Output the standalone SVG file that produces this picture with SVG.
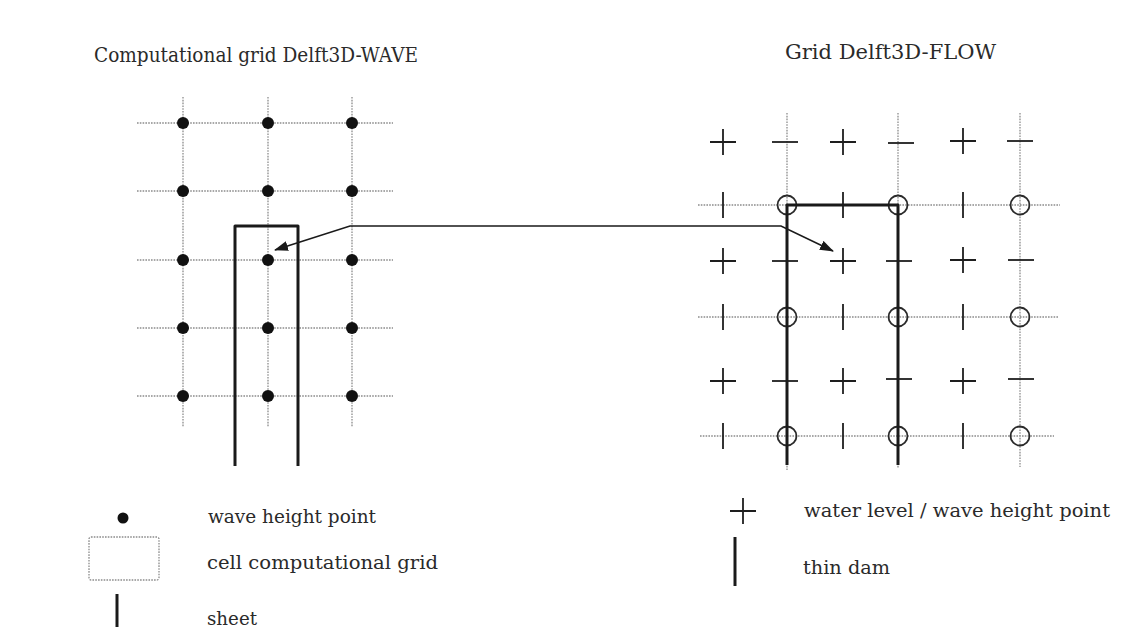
<svg xmlns="http://www.w3.org/2000/svg" xmlns:xlink="http://www.w3.org/1999/xlink" width="1125" height="641" viewBox="0 0 1125 641">
<style>
.txt{font-family:"DejaVu Serif","Liberation Serif",serif;fill:#2a2a2a;}
.title{font-size:19.5px;}
.leg{font-size:19px;}
.grid{stroke:#8c8c8c;stroke-width:1.3;stroke-dasharray:1.6 1.2;fill:none;}
.ink{stroke:#1e1e1e;stroke-width:1.8;fill:none;}
.thick{stroke:#1a1a1a;stroke-width:3;fill:none;stroke-linejoin:round;}
.dot{fill:#111;}
.circ{stroke:#2a2a2a;stroke-width:1.8;fill:none;}
.arrow{stroke:#1a1a1a;stroke-width:1.6;fill:none;}
</style>
<defs>
<marker id="ah" viewBox="0 0 14 10" refX="13" refY="5" markerWidth="14" markerHeight="10" markerUnits="userSpaceOnUse" orient="auto-start-reverse">
<path d="M0,0 L14,5 L0,10 z" fill="#1a1a1a"/>
</marker>
<path id="plus" class="ink" d="M-13,0 H13 M0,-13 V13"/>
<path id="dash" class="ink" d="M-13,0 H13"/>
<path id="tick" class="ink" d="M0,-13 V13"/>
<circle id="ring" class="circ" r="9.5"/>
</defs>
<rect width="1125" height="641" fill="#ffffff"/>

<g id="title-wave"><text class="txt title" x="94" y="62" textLength="324" lengthAdjust="spacingAndGlyphs">Computational grid Delft3D-WAVE</text></g>
<g id="title-flow"><text class="txt title" x="785" y="59" textLength="211" lengthAdjust="spacingAndGlyphs">Grid Delft3D-FLOW</text></g>

<g id="wave-grid">
<path class="grid" d="M137,123 H393 M137,191 H393 M137,260 H393 M137,328 H393 M137,396 H393 M183,97 V427 M268,97 V427 M352,97 V427"/>
<g>
<circle class="dot" cx="183" cy="123" r="6"/><circle class="dot" cx="268" cy="123" r="6"/><circle class="dot" cx="352" cy="123" r="6"/>
<circle class="dot" cx="183" cy="191" r="6"/><circle class="dot" cx="268" cy="191" r="6"/><circle class="dot" cx="352" cy="191" r="6"/>
<circle class="dot" cx="183" cy="260" r="6"/><circle class="dot" cx="268" cy="260" r="6"/><circle class="dot" cx="352" cy="260" r="6"/>
<circle class="dot" cx="183" cy="328" r="6"/><circle class="dot" cx="268" cy="328" r="6"/><circle class="dot" cx="352" cy="328" r="6"/>
<circle class="dot" cx="183" cy="396" r="6"/><circle class="dot" cx="268" cy="396" r="6"/><circle class="dot" cx="352" cy="396" r="6"/>
</g>
</g>
<g id="sheet"><path class="thick" d="M235,466 V226 H298 V466"/></g>

<g id="flow-grid">
<path class="grid" d="M698,205 H1060 M698,317 H1058 M700,436 H1054 M787,113 V470 M898,113 V468 M1020,113 V467"/>
<use href="#plus" x="723" y="142"/><use href="#dash" x="785" y="142"/><use href="#plus" x="843" y="142"/><use href="#dash" x="901" y="143"/><use href="#plus" x="963" y="141"/><use href="#dash" x="1020" y="141"/>
<use href="#tick" x="723" y="205"/><use href="#ring" x="787" y="205"/><use href="#tick" x="843" y="205"/><use href="#ring" x="898" y="205"/><use href="#tick" x="963" y="205"/><use href="#ring" x="1020" y="205"/>
<use href="#plus" x="723" y="261"/><use href="#dash" x="785" y="261"/><use href="#plus" x="843" y="261"/><use href="#dash" x="899" y="261"/><use href="#plus" x="963" y="260"/><use href="#dash" x="1021" y="260"/>
<use href="#tick" x="723" y="317"/><use href="#ring" x="787" y="317"/><use href="#tick" x="843" y="317"/><use href="#ring" x="898" y="317"/><use href="#tick" x="963" y="317"/><use href="#ring" x="1020" y="317"/>
<use href="#plus" x="723" y="381"/><use href="#dash" x="785" y="381"/><use href="#plus" x="843" y="381"/><use href="#dash" x="899" y="379"/><use href="#plus" x="963" y="381"/><use href="#dash" x="1021" y="379"/>
<use href="#tick" x="723" y="436"/><use href="#ring" x="787" y="436"/><use href="#tick" x="843" y="436"/><use href="#ring" x="898" y="436"/><use href="#tick" x="963" y="436"/><use href="#ring" x="1020" y="436"/>
</g>
<g id="thin-dam"><path class="thick" d="M787,465 V205 H898 V465"/></g>

<g id="connectors">
<path class="arrow" d="M275,250 L350,226 H781 L833,251" marker-start="url(#ah)" marker-end="url(#ah)"/>
</g>

<g id="legend-wave-point"><circle class="dot" cx="123" cy="518" r="5.5"/><text class="txt leg" x="208" y="523" textLength="168" lengthAdjust="spacingAndGlyphs">wave height point</text></g>
<g id="legend-cell"><rect x="89" y="537" width="70" height="43" rx="2" class="grid"/><text class="txt leg" x="207" y="569" textLength="231" lengthAdjust="spacingAndGlyphs">cell computational grid</text></g>
<g id="legend-sheet"><path class="thick" d="M117,594 V627"/><text class="txt leg" x="207" y="625" textLength="50" lengthAdjust="spacingAndGlyphs">sheet</text></g>
<g id="legend-water-level"><use href="#plus" x="743" y="511"/><text class="txt leg" x="804" y="517" textLength="306" lengthAdjust="spacingAndGlyphs">water level / wave height point</text></g>
<g id="legend-thin-dam"><path class="thick" d="M735,537 V586"/><text class="txt leg" x="803" y="574" textLength="87" lengthAdjust="spacingAndGlyphs">thin dam</text></g>
</svg>
